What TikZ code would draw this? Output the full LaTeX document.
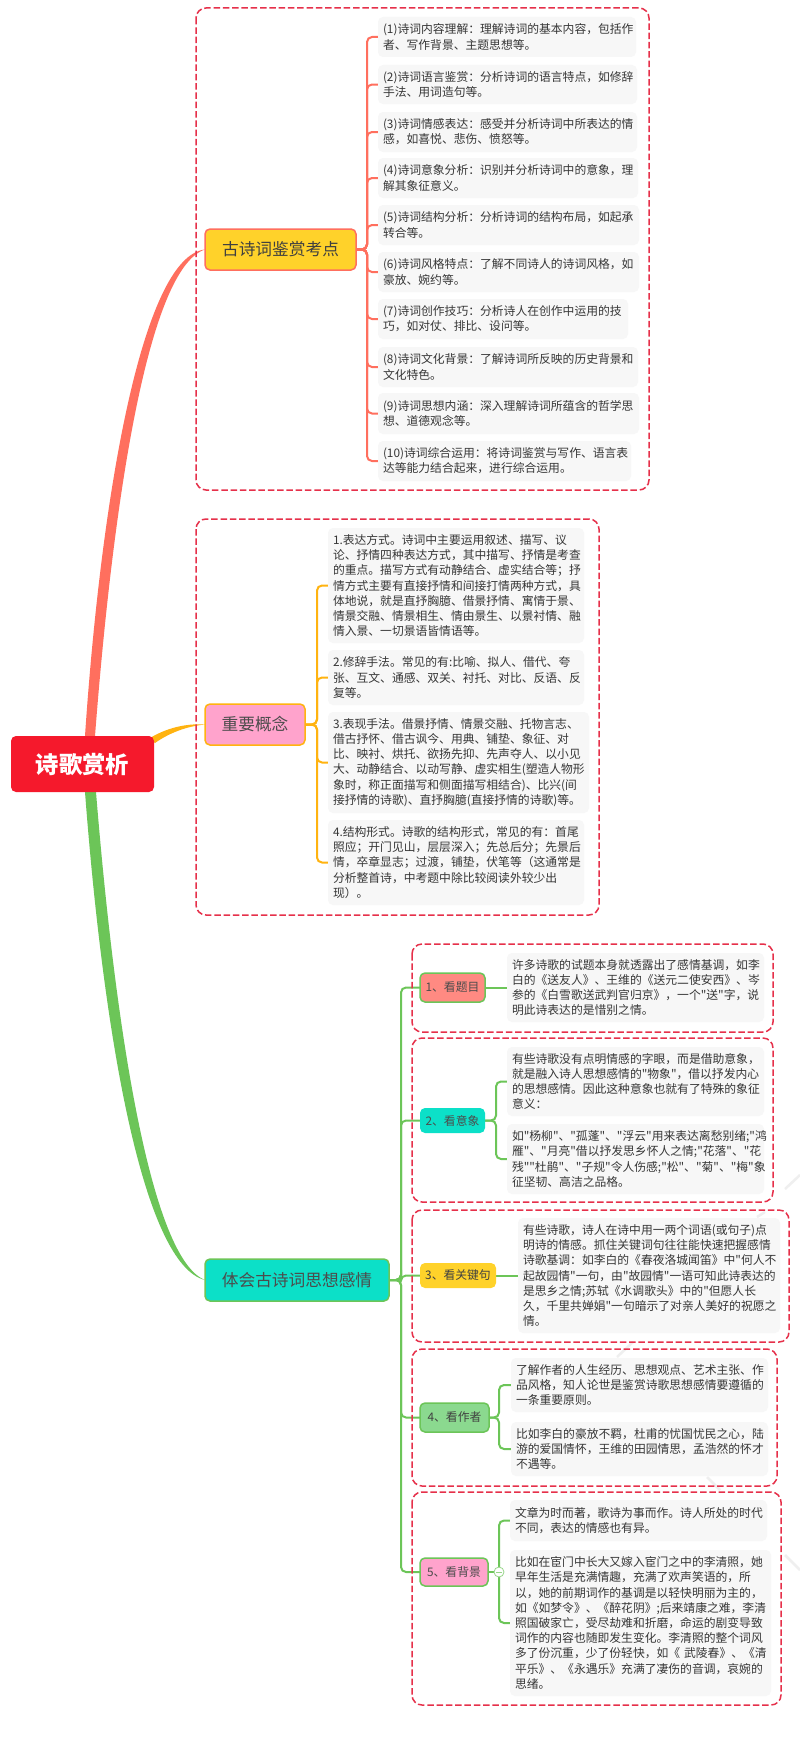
\documentclass[tikz,border=0pt]{standalone}
\usepackage{fontspec}
\newfontfamily\cjkfont{Noto Sans CJK SC}
\definecolor{cred}{HTML}{FF6F5E}
\definecolor{corange}{HTML}{FFB310}
\definecolor{cgreen}{HTML}{6CC558}
\definecolor{croot}{HTML}{F5192C}
\definecolor{cdash}{HTML}{E6304A}
\definecolor{ccard}{HTML}{F7F7F7}
\definecolor{ctext}{HTML}{363636}
\definecolor{cyellow}{HTML}{FFD22A}
\definecolor{cpink}{HTML}{FFA3CC}
\definecolor{cteal}{HTML}{0CE0C8}
\definecolor{csalmon}{HTML}{FF8A82}
\definecolor{cmint}{HTML}{8BD98F}
\definecolor{cwater}{HTML}{EFEFEF}
\pgfdeclarelayer{under}
\pgfsetlayers{under,main}
\tikzset{
  cardbox/.style={fill=ccard,rounded corners=5pt,inner xsep=5pt,inner ysep=0pt,outer sep=0pt,align=left,text=ctext,
    font=\cjkfont\fontsize{11.8pt}{15.2pt}\selectfont},
  topic/.style={rounded corners=5pt,inner sep=0pt,outer sep=0pt,align=center,font=\cjkfont\fontsize{16.7pt}{20pt}\selectfont},
  subtopic/.style={rounded corners=5pt,inner sep=0pt,outer sep=0pt,align=center,font=\cjkfont\fontsize{11.8pt}{14pt}\selectfont},
  rootbox/.style={fill=croot,rounded corners=5pt,inner sep=0pt,outer sep=0pt,text=white,font=\cjkfont\fontsize{23.3pt}{26pt}\selectfont\bfseries},
  dashbox/.style={draw=cdash,line width=1.5pt,dash pattern=on 6.5pt off 2.8pt,rounded corners=10pt},
  redline/.style={draw=cred,line width=2pt,rounded corners=5pt},
  orangeline/.style={draw=corange,line width=2pt,rounded corners=5pt},
  greenline/.style={draw=cgreen,line width=2pt,rounded corners=5pt},
  foldmark/.style={circle,draw=cgreen!70,fill=white,line width=.8pt,minimum size=10pt,inner sep=0pt,outer sep=0pt},
  waterline/.style={draw=cwater,line width=2.5pt},
}
% name, x0, y0, x1, y1, text
\newcommand{\cardnode}[6]{\node[cardbox,minimum width={(#4-#2)*1pt},minimum height={(#5-#3)*1pt},text width={(#4-#2-10)*1pt}] (#1) at ({(#2+#4)/2},{(#3+#5)/2}) {#6};}
% name, x0, y0, x1, y1, style, text
\newcommand{\boxnode}[7]{\node[#6,minimum width={(#4-#2)*1pt},minimum height={(#5-#3)*1pt}] (#1) at ({(#2+#4)/2},{(#3+#5)/2}) {#7};}
\begin{document}
\begin{tikzpicture}[x=1pt,y=-1pt]
\useasboundingbox (0,0) rectangle (800,1745);

% cards
\cardnode{a1}{378}{17}{636}{57}{(1)诗词内容理解：理解诗词的基本内容，包括作\\者、写作背景、主题思想等。}
\cardnode{a2}{378}{65}{637}{104}{(2)诗词语言鉴赏：分析诗词的语言特点，如修辞\\手法、用词造句等。}
\cardnode{a3}{378}{112}{637}{152}{(3)诗词情感表达：感受并分析诗词中所表达的情\\感，如喜悦、悲伤、愤怒等。}
\cardnode{a4}{378}{158}{638}{198}{(4)诗词意象分析：识别并分析诗词中的意象，理\\解其象征意义。}
\cardnode{a5}{378}{205}{639}{245}{(5)诗词结构分析：分析诗词的结构布局，如起承\\转合等。}
\cardnode{a6}{378}{252}{639}{292}{(6)诗词风格特点：了解不同诗人的诗词风格，如\\豪放、婉约等。}
\cardnode{a7}{378}{299}{628}{339}{(7)诗词创作技巧：分析诗人在创作中运用的技\\巧，如对仗、排比、设问等。}
\cardnode{a8}{378}{347}{638}{387}{(8)诗词文化背景：了解诗词所反映的历史背景和\\文化特色。}
\cardnode{a9}{378}{393}{639}{434}{(9)诗词思想内涵：深入理解诗词所蕴含的哲学思\\想、道德观念等。}
\cardnode{a10}{378}{441}{631}{481}{(10)诗词综合运用：将诗词鉴赏与写作、语言表\\达等能力结合起来，进行综合运用。}

\cardnode{b1}{328}{528}{584}{643}{1.表达方式。诗词中主要运用叙述、描写、议\\论、抒情四种表达方式，其中描写、抒情是考查\\的重点。描写方式有动静结合、虚实结合等；抒\\情方式主要有直接抒情和间接打情两种方式，具\\体地说，就是直抒胸臆、借景抒情、寓情于景、\\情景交融、情景相生、情由景生、以景衬情、融\\情入景、一切景语皆情语等。}
\cardnode{b2}{328}{650}{584}{705}{2.修辞手法。常见的有:比喻、拟人、借代、夸\\张、互文、通感、双关、衬托、对比、反语、反\\复等。}
\cardnode{b3}{328}{712}{589}{813}{3.表现手法。借景抒情、情景交融、托物言志、\\借古抒怀、借古讽今、用典、铺垫、象征、对\\比、映衬、烘托、欲扬先抑、先声夺人、以小见\\大、动静结合、以动写静、虚实相生(塑造人物形\\象时，称正面描写和侧面描写相结合)、比兴(间\\接抒情的诗歌)、直抒胸臆(直接抒情的诗歌)等。}
\cardnode{b4}{328}{820}{584}{905}{4.结构形式。诗歌的结构形式，常见的有：首尾\\照应；开门见山，层层深入；先总后分；先景后\\情，卒章显志；过渡，铺垫，伏笔等（这通常是\\分析整首诗，中考题中除比较阅读外较少出\\现）。}

\cardnode{c1}{507}{953}{764}{1022}{许多诗歌的试题本身就透露出了感情基调，如李\\白的《送友人》、王维的《送元二使安西》、岑\\参的《白雪歌送武判官归京》，一个"送"字，说\\明此诗表达的是惜别之情。}
\cardnode{d1}{507}{1047}{764}{1116}{有些诗歌没有点明情感的字眼，而是借助意象，\\就是融入诗人思想感情的"物象"，借以抒发内心\\的思想感情。因此这种意象也就有了特殊的象征\\意义：}
\cardnode{d2}{507}{1124}{764}{1194}{如"杨柳"、"孤蓬"、"浮云"用来表达离愁别绪;"鸿\\雁"、"月亮"借以抒发思乡怀人之情;"花落"、"花\\残""杜鹃"、"子规"令人伤感;"松"、"菊"、"梅"象\\征坚韧、高洁之品格。}
\cardnode{e1}{518}{1218}{780}{1333}{有些诗歌，诗人在诗中用一两个词语(或句子)点\\明诗的情感。抓住关键词句往往能快速把握感情\\诗歌基调：如李白的《春夜洛城闻笛》中"何人不\\起故园情"一句，由"故园情"一语可知此诗表达的\\是思乡之情;苏轼《水调歌头》中的"但愿人长\\久，千里共婵娟"一句暗示了对亲人美好的祝愿之\\情。}
\cardnode{f1}{511}{1358}{768}{1412}{了解作者的人生经历、思想观点、艺术主张、作\\品风格，知人论世是鉴赏诗歌思想感情要遵循的\\一条重要原则。}
\cardnode{f2}{511}{1422}{768}{1476}{比如李白的豪放不羁，杜甫的忧国忧民之心，陆\\游的爱国情怀，王维的田园情思，孟浩然的怀才\\不遇等。}
\cardnode{g1}{510}{1500}{767}{1541}{文章为时而著，歌诗为事而作。诗人所处的时代\\不同，表达的情感也有异。}
\cardnode{g2}{510}{1550}{771}{1696}{比如在宦门中长大又嫁入宦门之中的李清照，她\\早年生活是充满情趣，充满了欢声笑语的，所\\以，她的前期词作的基调是以轻快明丽为主的，\\如《如梦令》、《醉花阴》;后来靖康之难，李清\\照国破家亡，受尽劫难和折磨，命运的剧变导致\\词作的内容也随即发生变化。李清照的整个词风\\多了份沉重，少了份轻快，如《~武陵春》、《清\\平乐》、《永遇乐》充满了凄伤的音调，哀婉的\\思绪。}

% topic nodes
\boxnode{root}{11}{736}{154}{792}{rootbox}{诗歌赏析}
\boxnode{ta}{205}{229}{356}{270}{topic,fill=cyellow,draw=cred,line width=1.5pt,text=black!75}{古诗词鉴赏考点}
\boxnode{tb}{205}{704}{305}{745}{topic,fill=cpink,draw=corange,line width=1.5pt,text=black!70}{重要概念}
\boxnode{tc}{205}{1259}{389}{1301}{topic,fill=cteal,draw=cgreen,line width=1.5pt,text=black!70}{体会古诗词思想感情}
\boxnode{s1}{420}{973}{485}{1002}{subtopic,fill=csalmon,draw=cgreen,line width=1.5pt,text=black!70}{1、看题目}
\boxnode{s2}{420}{1108}{485}{1133}{subtopic,fill=cteal,text=black!70}{2、看意象}
\boxnode{s3}{420}{1263}{496}{1288}{subtopic,fill=cyellow,text=black!75}{3、看关键句}
\boxnode{s4}{420}{1403}{489}{1432}{subtopic,fill=cmint,draw=cgreen,line width=1.5pt,text=black!75}{4、看作者}
\boxnode{s5}{420}{1558}{488}{1586}{subtopic,fill=cpink,draw=cgreen,line width=1.5pt,text=black!70}{5、看背景}
\node[foldmark] (fold) at (499,1572) {};
\draw[draw=cgreen!70,line width=.8pt] ([xshift=2pt]fold.west) -- ([xshift=-2pt]fold.east);

\begin{pgfonlayer}{under}
\fill[white] (0,0) rectangle (800,1745);
% faint background strokes
\draw[waterline] (800,1175) -- (785,1189);
\draw[waterline] (765,1212) -- (757,1217);
\draw[waterline] (633,1342) -- (617,1357);
\draw[waterline] (707,1477) -- (720,1490);
\draw[waterline] (785,1555) -- (800,1570);

% tapered main branches
\fill[cred] ([xshift=2.5pt]root.north) .. controls (101,498) and (142,256) .. (ta.west) .. controls (148,268) and (113,502) .. ([xshift=12.5pt]root.north) -- cycle;
\fill[corange] ([shift={(-4,2)}]root.north east) .. controls (170,726) and (190,723.5) .. (tb.west) .. controls (190,726) and (172,731) .. ([shift={(1,7)}]root.north east) -- cycle;
\fill[cgreen] ([xshift=2.5pt]root.south) .. controls (104,1042) and (144,1265) .. (tc.west) .. controls (152,1259) and (116,1038) .. ([xshift=13.5pt]root.south) -- cycle;

% connectors
\foreach \n in {a1,a2,a3,a4,a5,a6,a7,a8,a9,a10}{\draw[redline] (ta.east) -- ++(11,0) |- (\n.west);}
\foreach \n in {b1,b2,b3,b4}{\draw[orangeline] (tb.east) -- ++(12,0) |- (\n.west);}
\foreach \n in {s1,s2,s3,s4,s5}{\draw[greenline] (tc.east) -- ++(12,0) |- (\n.west);}
\draw[greenline] (s1.east) -- (c1.west);
\draw[greenline] (s3.east) -- (e1.west);
\foreach \n in {d1,d2}{\draw[greenline] (s2.east) -- ++(11,0) |- (\n.west);}
\foreach \n in {f1,f2}{\draw[greenline] (s4.east) -- ++(10,0) |- (\n.west);}
\draw[greenline] (s5.east) -- (fold.west);
\foreach \n in {g1,g2}{\draw[greenline] (fold.center) |- (\n.west);}

% dashed frames
\draw[dashbox] (196,8) rectangle (649,490);
\draw[dashbox] (196,519) rectangle (599,915);
\draw[dashbox] (412,944) rectangle (773,1032);
\draw[dashbox] (412,1038) rectangle (773,1202);
\draw[dashbox] (412,1210) rectangle (789,1342);
\draw[dashbox] (412,1349) rectangle (777,1486);
\draw[dashbox] (412,1492) rectangle (781,1705);
\end{pgfonlayer}
\end{tikzpicture}
\end{document}
